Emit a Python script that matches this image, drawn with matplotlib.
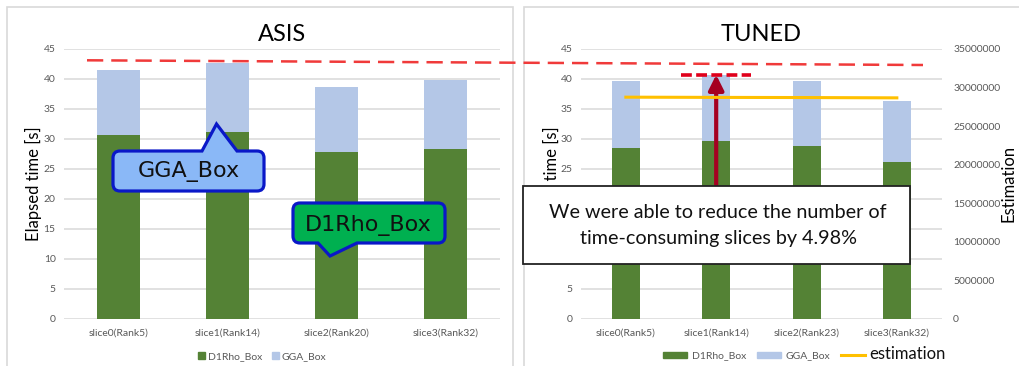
import matplotlib
matplotlib.use("Agg")
import matplotlib.pyplot as plt
from matplotlib.path import Path
from matplotlib.patches import PathPatch, Rectangle, Patch
from matplotlib.lines import Line2D

# ---- data ----
categories_asis = ["slice0(Rank5)", "slice1(Rank14)", "slice2(Rank20)", "slice3(Rank32)"]
categories_tuned = ["slice0(Rank5)", "slice1(Rank14)", "slice2(Rank23)", "slice3(Rank32)"]
asis_d1rho = [30.6, 31.1, 27.8, 28.3]
asis_gga = [10.9, 11.6, 10.9, 11.5]
tuned_d1rho = [28.5, 29.6, 28.8, 26.1]
tuned_gga = [11.1, 11.1, 10.9, 10.3]
estimation = [28.75e6, 28.72e6, 28.70e6, 28.66e6]
time_ticks = [0, 5, 10, 15, 20, 25, 30, 35, 40, 45]
est_ticks = [0, 5000000, 10000000, 15000000, 20000000, 25000000, 30000000, 35000000]
reduction_pct = 4.98

GREEN = "#548235"
BLUE = "#B4C7E7"
YELLOW = "#FFC000"
GRID = "#D9D9D9"
TICK = "#595959"
FONT = "Lato"

W, H = 1019, 366
fig = plt.figure(figsize=(W / 100, H / 100), dpi=100)


def fx(x):
    return x / W


def fy(y):
    return 1 - y / H


def px_axes(x0, y0, x1, y1):
    return fig.add_axes([fx(x0), fy(y1), fx(x1) - fx(x0), fy(y0) - fy(y1)])


# panel frames
for (x0, y0, x1, y1) in [(7, 7, 513, 372), (524, 7, 1030, 372)]:
    fig.patches.append(Rectangle((fx(x0), fy(y1)), fx(x1 - x0), (y1 - y0) / H,
                                 transform=fig.transFigure, fill=False,
                                 edgecolor="#D9D9D9", lw=1.2, zorder=0))


def style_axes(ax, cats, d1, gga, width, ylabel_pad):
    x = range(len(cats))
    ax.bar(x, d1, width=width, color=GREEN, zorder=2)
    ax.bar(x, gga, width=width, bottom=d1, color=BLUE, zorder=2)
    ax.set_ylim(0, 45)
    ax.set_xlim(-0.5, len(cats) - 0.5)
    ax.set_yticks(time_ticks)
    ax.set_xticks(list(x))
    ax.set_xticklabels(cats)
    ax.grid(axis="y", color=GRID, lw=1.1, zorder=0)
    ax.set_axisbelow(True)
    for s in ax.spines.values():
        s.set_visible(False)
    ax.tick_params(length=0, labelsize=7.5, labelcolor=TICK, pad=6)
    for t in ax.get_xticklabels() + ax.get_yticklabels():
        t.set_fontfamily(FONT)
    ax.tick_params(axis="x", pad=7)
    ax.set_ylabel("Elapsed time [s]", fontsize=12, fontfamily=FONT, labelpad=ylabel_pad)


# ---- ASIS ----
ax1 = px_axes(64, 49, 500, 318.7)
style_axes(ax1, categories_asis, asis_d1rho, asis_gga, 0.4, 1.5)
ax1.set_title("ASIS", fontsize=17, fontfamily=FONT, pad=6)
leg1 = ax1.legend(handles=[Patch(color=GREEN, label="D1Rho_Box"), Patch(color=BLUE, label="GGA_Box")],
                  loc="upper center", bbox_to_anchor=(0.455, -0.09), ncol=2, frameon=False,
                  handlelength=0.6, handleheight=0.6, handletextpad=0.3, columnspacing=1.0,
                  prop={"family": FONT, "size": 7.5})
for t in leg1.get_texts():
    t.set_color(TICK)

# ---- TUNED ----
ax2 = px_axes(580.7, 49, 942, 318.7)
style_axes(ax2, categories_tuned, tuned_d1rho, tuned_gga, 0.31, 0.5)
ax2.set_title("TUNED", fontsize=17, fontfamily=FONT, pad=6)
ax3 = ax2.twinx()
ax3.plot(range(len(estimation)), estimation, color=YELLOW, lw=2.2, zorder=3)
ax3.set_ylim(0, 35000000)
ax3.set_yticks(est_ticks)
ax3.set_yticklabels([str(v) for v in est_ticks])
for s in ax3.spines.values():
    s.set_visible(False)
ax3.tick_params(length=0, labelsize=7.5, labelcolor=TICK, pad=8)
for t in ax3.get_yticklabels():
    t.set_fontfamily(FONT)
ax3.set_ylabel("Estimation", fontsize=12, fontfamily=FONT, labelpad=0)

leg2 = ax2.legend(handles=[Patch(color=GREEN, label="D1Rho_Box"), Patch(color=BLUE, label="GGA_Box"),
                           Line2D([], [], color=YELLOW, lw=2.2, label="estimation")],
                  loc="upper center", bbox_to_anchor=(0.62, -0.065), ncol=3, frameon=False,
                  handlelength=2.3, handleheight=0.55, handletextpad=0.4, columnspacing=1.1,
                  prop={"family": FONT, "size": 7.5})
for t in leg2.get_texts()[:2]:
    t.set_color(TICK)
leg2.get_texts()[2].set_fontsize(12)
leg2.get_texts()[2].set_color("#111111")

# reduction marker on slice1 of TUNED
tuned_total_1 = tuned_d1rho[1] + tuned_gga[1]
ax2.plot([0.61, 1.39], [tuned_total_1, tuned_total_1], color="#E0001B", lw=2.6,
         ls=(0, (3.0, 1.2)), zorder=5, clip_on=False)
ax2.annotate("", xy=(1, tuned_total_1), xytext=(1, 20),
             arrowprops=dict(arrowstyle="-|>,head_length=0.9,head_width=0.45",
                             color="#A50021", lw=3.0, shrinkA=0, shrinkB=0),
             zorder=6)

# long dashed reference line across both panels
fig.lines.append(Line2D([fx(87), fx(923)], [fy(60.3), fy(65)], transform=fig.transFigure,
                        color="#F03A3A", lw=1.8, ls=(0, (6.5, 3.2)), zorder=4))


# ---- callouts ----
def callout(x0, y0, x1, y1, r, side, bx0, bx1, ax_, ay_):
    v, c = [], []

    def mv(p):
        v.append(p); c.append(Path.MOVETO)

    def ln(p):
        v.append(p); c.append(Path.LINETO)

    def cv(ctrl, p):
        v.extend([ctrl, p]); c.extend([Path.CURVE3, Path.CURVE3])

    mv((x0 + r, y0))
    if side == "top":
        ln((bx0, y0)); ln((ax_, ay_)); ln((bx1, y0))
    ln((x1 - r, y0)); cv((x1, y0), (x1, y0 + r))
    ln((x1, y1 - r)); cv((x1, y1), (x1 - r, y1))
    if side == "bottom":
        ln((bx1, y1)); ln((ax_, ay_)); ln((bx0, y1))
    ln((x0 + r, y1)); cv((x0, y1), (x0, y1 - r))
    ln((x0, y0 + r)); cv((x0, y0), (x0 + r, y0))
    v.append((x0 + r, y0)); c.append(Path.CLOSEPOLY)
    return Path([(fx(a), fy(b)) for a, b in v], c)


gga_path = callout(113, 151, 264, 191, 7, "top", 202, 237, 216.5, 124)
fig.patches.append(PathPatch(gga_path, transform=fig.transFigure, facecolor="#8AB8F7",
                             edgecolor="#0A18C8", lw=2.3, zorder=5))
fig.text(fx(188.5), fy(171), "GGA_Box", ha="center", va="center", fontsize=16,
         fontfamily="DejaVu Sans", color="#111111", zorder=6)

d1_path = callout(293, 203, 445, 243, 7, "bottom", 318, 357, 330, 256)
fig.patches.append(PathPatch(d1_path, transform=fig.transFigure, facecolor="#00B050",
                             edgecolor="#0A18C8", lw=2.3, zorder=5))
fig.text(fx(368), fy(225), "D1Rho_Box", ha="center", va="center", fontsize=16,
         fontfamily="DejaVu Sans", color="#111111", zorder=6)

# message box
fig.patches.append(Rectangle((fx(523), fy(264)), fx(910 - 523), (264 - 186) / H,
                             transform=fig.transFigure, facecolor="white",
                             edgecolor="#222222", lw=1.3, zorder=7))
fig.text(fx(718), fy(212), "We were able to reduce the number of",
         ha="center", va="center", fontsize=14.2, fontfamily=FONT, color="#111111", zorder=8)
fig.text(fx(718), fy(238.5), f"time-consuming slices by {reduction_pct:.2f}%",
         ha="center", va="center", fontsize=14.2, fontfamily=FONT, color="#111111", zorder=8)

fig.savefig("out.png", dpi=100)
